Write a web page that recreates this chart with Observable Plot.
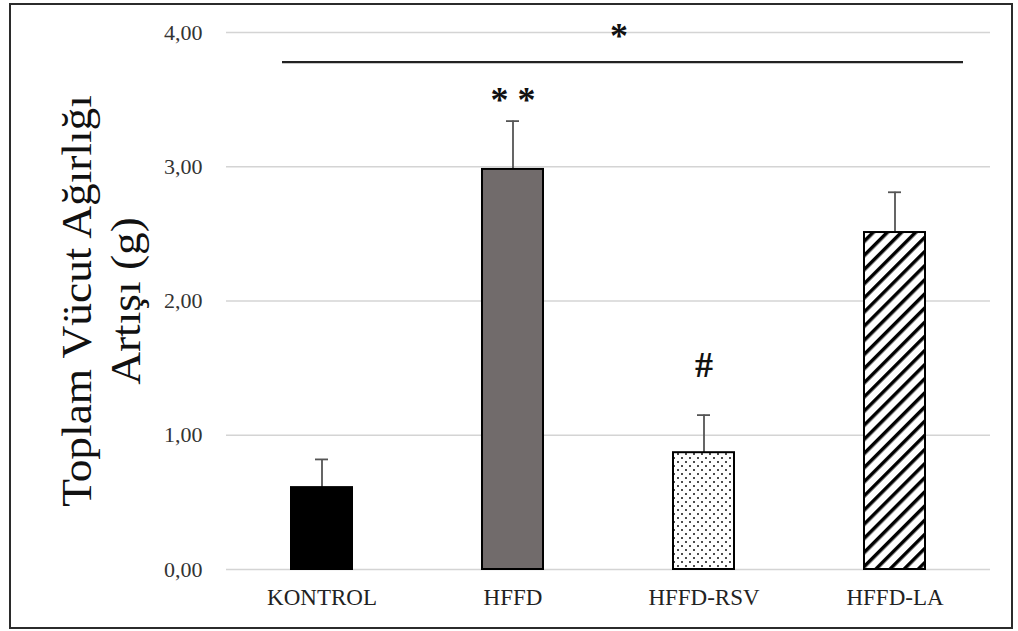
<!DOCTYPE html>
<html>
<head>
<meta charset="utf-8">
<script src="https://cdn.jsdelivr.net/npm/d3@7"></script>
<script src="https://cdn.jsdelivr.net/npm/@observablehq/plot@0.6"></script>
<style>
  html, body { margin: 0; padding: 0; background: #fff; }
  #wrap { position: relative; width: 1018px; height: 631px; }
  #frame { position: absolute; left: 9px; top: 3px; width: 1000px; height: 622px; border: 2px solid #2b2b2b; pointer-events: none; }
</style>
</head>
<body>
<div id="wrap"><div id="frame"></div></div>
<script>
const groups = ["KONTROL", "HFFD", "HFFD-RSV", "HFFD-LA"];
const means = [0.61, 2.98, 0.87, 2.51];
const errors = [0.21, 0.36, 0.28, 0.30];
const fills = ["#000000", "#716b6b", "url(#dots)", "url(#stripes)"];
const yTicks = [0, 1, 2, 3, 4];
const sigY = 3.78;
const starLabels = [{group: "HFFD", y: 3.49, label: "* *"}];
const hashLabels = [{group: "HFFD-RSV", y: 1.52, label: "#"}];
const topStar = [{group: "HFFD", y: 3.97, label: "*"}];
const yTitle = "Toplam Vücut Ağırlığı\nArtışı (g)";

const data = groups.map((g, i) => ({group: g, mean: means[i], err: errors[i], top: means[i] + errors[i], fill: fills[i]}));

const chart = Plot.plot({
  width: 1018,
  height: 631,
  marginLeft: 226,
  marginRight: 28,
  marginTop: 32,
  marginBottom: 62,
  style: {fontFamily: "'Liberation Serif', 'Times New Roman', serif", background: "transparent"},
  x: {domain: groups, paddingInner: 0.68, paddingOuter: 0.34, label: null},
  y: {domain: [0, 4], label: null},
  marks: [
    Plot.gridY(yTicks, {stroke: "#d4d4d4", strokeOpacity: 1, strokeWidth: 1.5}),
    Plot.ruleX(data, {x: "group", y1: "mean", y2: "top", stroke: "#555", strokeWidth: 1.8}),
    Plot.tickY(data, {x: "group", y: "top", stroke: "#555", strokeWidth: 1.8, insetLeft: 24, insetRight: 24}),
    Plot.barY(data, {x: "group", y: "mean", fill: d => d.fill, stroke: "#000", strokeWidth: 2}),
    Plot.ruleY([sigY], {stroke: "#222", strokeWidth: 2.2, insetLeft: 56, insetRight: 27}),
    Plot.text(starLabels, {x: "group", y: "y", text: "label", fontSize: 36, fontWeight: "bold", fill: "#111"}),
    Plot.text(topStar, {x: "group", y: "y", text: "label", dx: 106, fontSize: 36, fontWeight: "bold", fill: "#111"}),
    Plot.text(hashLabels, {x: "group", y: "y", text: "label", fontSize: 36, fontWeight: "bold", fill: "#111"}),
    Plot.text([yTitle], {frameAnchor: "left", dx: -127, rotate: -90, fontSize: 42, lineHeight: 1.18, fill: "#111", textAnchor: "middle", className: "ytitle"}),
    Plot.axisY({ticks: yTicks, tickFormat: d => d.toFixed(2).replace(".", ","), tickSize: 0, tickPadding: 24, fontSize: 22, fill: "#333"}),
    Plot.axisX({tickSize: 0, tickPadding: 19, fontSize: 23, fill: "#222"})
  ]
});

const defs = `
<defs>
  <pattern id="dots" patternUnits="userSpaceOnUse" width="8" height="8">
    <rect width="8" height="8" fill="#fff"/>
    <circle cx="2" cy="2" r="1" fill="#111"/>
    <circle cx="6" cy="6" r="1" fill="#111"/>
  </pattern>
  <pattern id="stripes" patternUnits="userSpaceOnUse" width="10" height="10" patternTransform="rotate(45)">
    <rect width="10" height="10" fill="#fff"/>
    <line x1="0" y1="0" x2="0" y2="10" stroke="#000" stroke-width="7"/>
  </pattern>
</defs>`;
chart.insertAdjacentHTML("afterbegin", defs);
// stretch the title slightly along its length, as in the reference
chart.querySelectorAll(".ytitle text").forEach(t => {
  const tr = t.getAttribute("transform") || "";
  t.setAttribute("transform", tr + " scale(1.08,1)");
});
document.getElementById("wrap").prepend(chart);
</script>
</body>
</html>
